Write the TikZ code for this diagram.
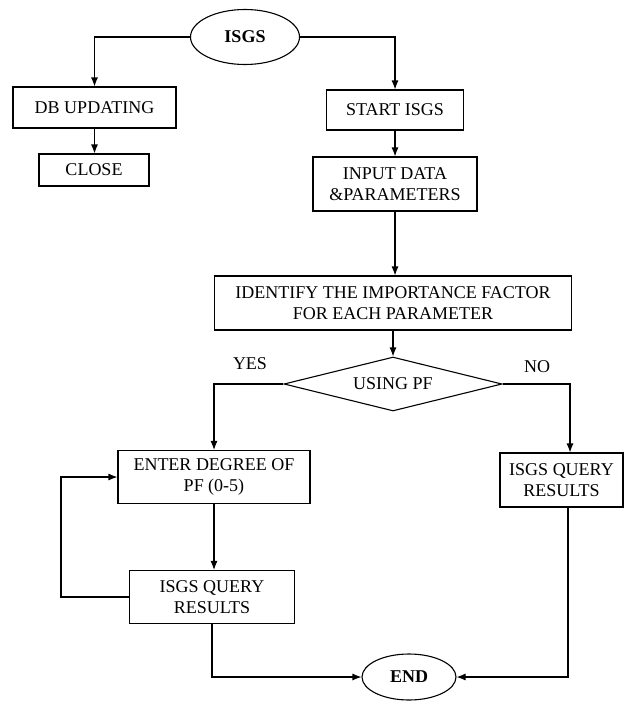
\documentclass[tikz,border=0pt]{standalone}
\usepackage{fontspec}
\setmainfont{Liberation Serif}
\usetikzlibrary{shapes.geometric,arrows.meta}
\begin{document}
\begin{tikzpicture}[x=1pt,y=-1pt,
  txt/.style={font=\fontsize{18}{21}\selectfont},
  box/.style={txt,draw,line width=1.1pt,rectangle,inner sep=0pt,align=center},
  oval/.style={draw,line width=1.1pt,ellipse,inner sep=0pt,font=\fontsize{18}{21}\selectfont\bfseries},
  decision/.style={txt,draw,line width=1.1pt,diamond,inner sep=0pt,aspect=4},
  arr/.style={line width=1.1pt,-{Latex[length=9pt,width=7pt]}}]
\useasboundingbox (0,0) rectangle (625,701);
\node[oval,minimum width=109pt,minimum height=55pt] (isgs) at (245,37) {ISGS};
\node[box,minimum width=163pt,minimum height=41pt] (db) at (94.5,107.5) {DB UPDATING};
\node[box,minimum width=110pt,minimum height=32pt] (close) at (94,170) {CLOSE};
\node[box,minimum width=137pt,minimum height=40pt] (start) at (395,110) {START ISGS};
\node[box,minimum width=164pt,minimum height=54pt] (input) at (395,184) {INPUT DATA\\\&PARAMETERS};
\node[box,minimum width=357pt,minimum height=54pt] (ident) at (393,303) {IDENTIFY THE IMPORTANCE FACTOR\\FOR EACH PARAMETER};
\node[decision,minimum width=218pt,minimum height=54pt] (dia) at (393,384) {USING PF};
\node[txt] (yes) at (250,364) {YES};
\node[txt] (no) at (537,367) {NO};
\node[box,minimum width=192pt,minimum height=53pt] (enter) at (214,477) {ENTER DEGREE OF\\PF (0-5)};
\node[box,minimum width=123pt,minimum height=54pt] (rq) at (561.5,480) {ISGS QUERY\\RESULTS};
\node[box,minimum width=165pt,minimum height=53pt] (lq) at (212,597) {ISGS QUERY\\RESULTS};
\node[oval,minimum width=94pt,minimum height=46pt] (end) at (409,677) {END};
\draw[arr] (isgs.west) -| (db.north);
\draw[arr] (isgs.east) -| (start.north);
\draw[arr] (db.south) -- (db.south |- close.north);
\draw[arr] (start.south) -- (input.north);
\draw[arr] (input.south) -- (input.south |- ident.north);
\draw[arr] (ident.south) -- (dia.north);
\draw[arr] (dia.west) -| (enter.north);
\draw[arr] (dia.east) -| ([xshift=8.5pt]rq.north);
\draw[arr] (enter.south) -- (enter.south |- lq.north);
\draw[arr] (lq.west) -- ++(-68,0) |- (enter.west);
\draw[arr] (lq.south) |- (end.west);
\draw[arr] ([xshift=6.5pt]rq.south) |- (end.east);
\end{tikzpicture}
\end{document}
